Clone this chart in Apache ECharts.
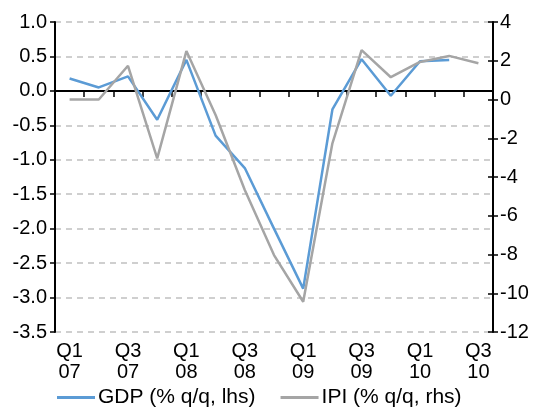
<!DOCTYPE html>
<html>
<head>
<meta charset="utf-8">
<script src="https://cdn.jsdelivr.net/npm/echarts@6/dist/echarts.min.js"></script>
<style>
  html, body { margin: 0; padding: 0; background: #fff; }
  #chart { width: 533px; height: 411px; }
</style>
</head>
<body>
<div id="chart"></div>
<script>
// quarters Q1 07 .. Q3 10
var quarters = ['Q1\n07', 'Q2\n07', 'Q3\n07', 'Q4\n07',
                'Q1\n08', 'Q2\n08', 'Q3\n08', 'Q4\n08',
                'Q1\n09', 'Q2\n09', 'Q3\n09', 'Q4\n09',
                'Q1\n10', 'Q2\n10', 'Q3\n10'];

// GDP % q/q (lhs)
var gdp = [0.18, 0.05, 0.21, -0.42, 0.45, -0.65, -1.12, -2.0,
           -2.87, -0.27, 0.46, -0.07, 0.43, 0.45, null];

// IPI % q/q (rhs)
var ipi = [0.0, 0.0, 1.74, -3.04, 2.5, -0.8, -4.67, -8.03,
           -10.44, -2.26, 2.55, 1.15, 1.94, 2.25, 1.87];

var FONT = 'Liberation Sans, Arial, sans-serif';
var labelStyle = { color: '#000', fontSize: 20, fontFamily: FONT };

var chart = echarts.init(document.getElementById('chart'), null, { renderer: 'canvas' });

chart.setOption({
    animation: false,
    backgroundColor: '#fff',
    grid: { left: 55, right: 40, top: 22, bottom: 79 },
    legend: {
        left: 57,
        top: 387,
        padding: 0,
        icon: 'rect',
        itemWidth: 38,
        itemHeight: 3,
        itemGap: 25,
        textStyle: { color: '#000', fontSize: 21, fontFamily: FONT, padding: [0, 0, 0, -2] },
        data: ['GDP (% q/q, lhs)', 'IPI (% q/q, rhs)']
    },
    xAxis: [{
        // axis line sitting on zero, with ticks only
        type: 'category',
        data: quarters,
        position: 'bottom',
        boundaryGap: true,
        axisLine: { onZero: true, onZeroAxisIndex: 0, lineStyle: { color: '#000', width: 2 } },
        axisTick: { show: true, interval: 0, length: 6, lineStyle: { color: '#000', width: 1.5 } },
        axisLabel: { show: false },
        splitLine: { show: false }
    }, {
        // labels at the bottom of the plot
        type: 'category',
        data: quarters,
        position: 'bottom',
        boundaryGap: true,
        axisLine: { show: false, onZero: false },
        axisTick: { show: false },
        axisLabel: Object.assign({ interval: 1, margin: 9, lineHeight: 21 }, labelStyle),
        splitLine: { show: false }
    }],
    yAxis: [{
        type: 'value',
        position: 'left',
        min: -3.5,
        max: 1,
        interval: 0.5,
        axisLine: { show: true, lineStyle: { color: '#000', width: 2 } },
        axisTick: { show: true, length: 5, lineStyle: { color: '#000', width: 1.5 } },
        axisLabel: Object.assign({
            margin: 8,
            formatter: function (v) { return v.toFixed(1); }
        }, labelStyle),
        splitLine: { show: true, lineStyle: { color: '#c0c0c0', width: 1.5, type: [6, 5] } }
    }, {
        type: 'value',
        position: 'right',
        min: -12,
        max: 4,
        interval: 2,
        axisLine: { show: true, lineStyle: { color: '#000', width: 2 } },
        axisTick: { show: true, length: 5, lineStyle: { color: '#000', width: 1.5 } },
        axisLabel: Object.assign({ margin: 7 }, labelStyle),
        splitLine: { show: false }
    }, {
        // inner half of the crossing ticks on the right axis
        type: 'value',
        position: 'right',
        min: -12,
        max: 4,
        interval: 2,
        axisLine: { show: false },
        axisTick: { show: true, inside: true, length: 5, lineStyle: { color: '#000', width: 1.5 } },
        axisLabel: { show: false },
        splitLine: { show: false }
    }],
    series: [{
        name: 'GDP (% q/q, lhs)',
        type: 'line',
        xAxisIndex: 0,
        yAxisIndex: 0,
        data: gdp,
        showSymbol: false,
        connectNulls: false,
        color: '#5b9bd5',
        lineStyle: { color: '#5b9bd5', width: 2.5 }
    }, {
        name: 'IPI (% q/q, rhs)',
        type: 'line',
        xAxisIndex: 0,
        yAxisIndex: 1,
        data: ipi,
        showSymbol: false,
        color: '#a5a5a5',
        lineStyle: { color: '#a5a5a5', width: 2.5 }
    }]
});
</script>
</body>
</html>
